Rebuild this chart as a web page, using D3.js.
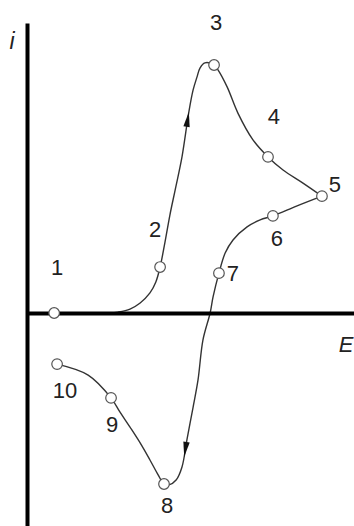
<!DOCTYPE html>
<html>
<head>
<meta charset="utf-8">
<script src="https://cdn.jsdelivr.net/npm/d3@7"></script>
<style>
  html, body { margin: 0; padding: 0; background: #fff; }
  svg { display: block; }
  text { font-family: "Liberation Sans", Arial, Helvetica, sans-serif; fill: #222; }
</style>
</head>
<body>
<svg id="chart" width="354" height="526"></svg>
<script>
// Cyclic voltammogram: current i versus potential E (arbitrary units)

// Forward (anodic) sweep samples
const forwardE = [8.3, 16.2, 25.4, 27.8, 31.5, 34.6, 37.6, 39.4, 40.7, 42.2, 43.7, 45.3, 47.4, 49.5, 50.8, 52.0, 52.9, 54.4, 57.2, 58.4, 61.2, 64.5, 69.1, 73.7, 78.3, 84.4, 90.2];
const forwardI = [0, 0, 0, 0.3, 1.3, 3.3, 6.6, 10.2, 15.1, 23.3, 32.2, 40.4, 51.3, 66.1, 73.3, 77.6, 80.5, 82.2, 81.5, 79.9, 74.3, 65.7, 56.9, 51.3, 47.0, 42.7, 38.4];

// Reverse (cathodic) sweep samples
const reverseE = [90.2, 82.6, 75.2, 71.3, 67.3, 63.0, 60.6, 58.7, 56.9, 56.0, 53.8, 52.3, 50.8, 48.9, 47.4, 45.6, 43.4, 41.9, 40.1, 37.6, 34.6, 31.5, 28.4, 25.7, 18.7, 9.2];
const reverseI = [38.4, 35.2, 31.9, 30.6, 28.3, 24.0, 19.7, 13.1, 5.3, 0, -8.9, -22.0, -30.9, -41.7, -50.6, -54.9, -56.5, -56.2, -53.2, -48.3, -42.7, -37.5, -32.5, -27.9, -20.4, -16.8];

// Numbered points along the cycle
const pointLabels = ["1", "2", "3", "4", "5", "6", "7", "8", "9", "10"];
const pointE = [8.3, 40.7, 57.2, 73.7, 90.2, 75.2, 58.7, 41.9, 25.7, 9.2];
const pointI = [0, 15.1, 81.5, 51.3, 38.4, 31.9, 13.1, -56.2, -27.9, -16.8];

// Sweep-direction arrow tips: [E, i]
const arrowTips = [[49.5, 66.1], [48.3, -47.3]];

const axisLabels = { x: "E", y: "i" };

const svg = d3.select("#chart");

const x = d3.scaleLinear().domain([0, 100]).range([27, 354]);
const y = d3.scaleLinear().domain([-70, 95.3]).range([526, 23]);

// Label offsets (px) from each numbered point
const labelOffset = [[3, -46], [-5, -38], [2, -43], [6, -41], [13, -12], [4, 22], [14, 0], [3, 21], [1, 26], [8, 26]];

const line = d3.line()
  .x(d => x(d[0]))
  .y(d => y(d[1]))
  .curve(d3.curveCatmullRom.alpha(0.5));

const fwd = forwardE.map((e, k) => [e, forwardI[k]]);
const rev = reverseE.map((e, k) => [e, reverseI[k]]);

const curves = svg.append("g")
  .attr("fill", "none")
  .attr("stroke", "#333")
  .attr("stroke-width", 1.4);

const paths = [fwd, rev].map(s => curves.append("path").attr("d", line(s)).node());

// Axes: plain lines, no ticks
const xAxis = svg.append("g")
  .attr("transform", `translate(0,${y(0)})`)
  .call(d3.axisBottom(x).tickValues([]).tickSizeOuter(0));
const yAxis = svg.append("g")
  .attr("transform", `translate(${x(0)},0)`)
  .call(d3.axisLeft(y).tickValues([]).tickSizeOuter(0));
[xAxis, yAxis].forEach(g => g.select(".domain")
  .attr("stroke", "#000")
  .attr("stroke-width", 4)
  .attr("stroke-linecap", "butt"));

// Arrowheads oriented along the curve
arrowTips.forEach((tip, k) => {
  const p = paths[k];
  const total = p.getTotalLength();
  const tx = x(tip[0]), ty = y(tip[1]);
  let best = 0, bestD = Infinity;
  for (let l = 0; l <= total; l += 0.5) {
    const q = p.getPointAtLength(l);
    const d = (q.x - tx) ** 2 + (q.y - ty) ** 2;
    if (d < bestD) { bestD = d; best = l; }
  }
  const a = p.getPointAtLength(best);
  const b = p.getPointAtLength(Math.max(0, best - 14));
  const ang = Math.atan2(a.y - b.y, a.x - b.x) * 180 / Math.PI;
  svg.append("path")
    .attr("d", "M0,0 L-15,-3.2 L-15,3.2 Z")
    .attr("fill", "#111")
    .attr("transform", `translate(${a.x},${a.y}) rotate(${ang})`);
});

// Open circle markers
svg.append("g").selectAll("circle")
  .data(pointE.map((e, k) => [e, pointI[k]]))
  .join("circle")
  .attr("cx", d => x(d[0]))
  .attr("cy", d => y(d[1]))
  .attr("r", 5.3)
  .attr("fill", "#fff")
  .attr("stroke", "#555")
  .attr("stroke-width", 1.2);

// Point numbers
const fs = 22;
svg.append("g").selectAll("text")
  .data(pointLabels)
  .join("text")
  .attr("x", (d, k) => x(pointE[k]) + labelOffset[k][0])
  .attr("y", (d, k) => y(pointI[k]) + labelOffset[k][1] + fs * 0.36)
  .attr("text-anchor", "middle")
  .attr("font-size", fs)
  .text(d => d);

// Axis titles
svg.append("text")
  .attr("x", 12).attr("y", 49)
  .attr("text-anchor", "middle")
  .attr("font-size", 23)
  .attr("font-style", "italic")
  .text(axisLabels.y);
svg.append("text")
  .attr("x", 346).attr("y", 352)
  .attr("text-anchor", "middle")
  .attr("font-size", 22)
  .attr("font-style", "italic")
  .text(axisLabels.x);
</script>
</body>
</html>
